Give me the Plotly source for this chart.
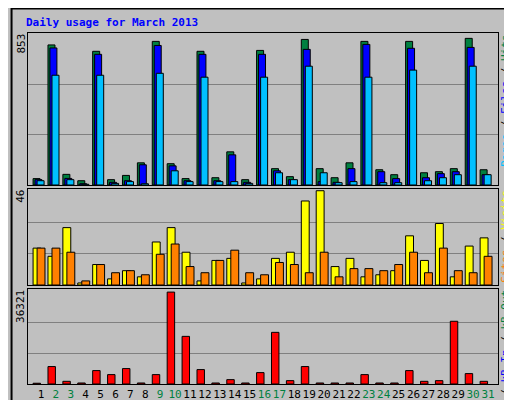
import plotly.graph_objects as go

days = list(range(1, 32))
day_labels = [str(d) for d in days]
weekend = [2, 3, 9, 10, 16, 17, 23, 24, 30, 31]

hits  = [36,790,60,24,754,30,54,125,810,120,36,754,41,187,30,759,92,47,821,92,41,125,810,86,58,810,69,75,92,827,86]
files = [30,773,37,7,737,15,24,114,787,108,24,737,24,170,15,737,80,30,765,19,15,92,793,75,36,771,41,64,75,776,58]
pages = [24,619,30,4,619,9,19,7,630,80,19,608,19,19,9,608,69,30,670,69,13,19,608,13,13,648,24,41,58,670,58]
visits = [18,14,28,1,10,3,7,4,21,28,16,2,12,13,1,3,13,16,41,46,9,13,4,5,7,24,12,30,4,19,23]
sites  = [18,18,16,2,10,6,7,5,15,20,9,6,12,17,6,5,11,10,6,16,4,8,8,7,10,16,6,18,7,6,14]
kbytes = [300,6893,1060,400,5302,3712,6098,400,3712,36321,18824,5700,400,1723,400,4507,20414,1326,6893,400,400,400,3712,400,400,5302,1060,1326,24789,4109,1060]

max_top, max_mid, max_bot = 853, 46, 36321
FONT = "DejaVu Sans Mono"

fig = go.Figure()
def bar(y, color, off, w, ax):
    fig.add_trace(go.Bar(x=days, y=y, offset=off, width=w, marker=dict(color=color, line=dict(color="black", width=1)),
                         xaxis="x" + ax, yaxis="y" + ax, showlegend=False, hoverinfo="skip"))
bar(hits, "#008040", -0.53, 0.47, "")
bar(files, "#0000FF", -0.40, 0.47, "")
bar(pages, "#00C0FF", -0.26, 0.47, "")
bar(visits, "#FFFF00", -0.53, 0.53, "2")
bar(sites, "#FF8000", -0.26, 0.53, "2")
bar(kbytes, "#FF0000", -0.53, 0.5, "3")

xr = [0.13, 31.67]
ticktext = [f"<span style='color:#008040'>{l}</span>" if d in weekend else l for d, l in zip(days, day_labels)]
common_x = dict(range=xr, showline=True, linecolor="black", mirror=True, showgrid=False, zeroline=False, fixedrange=True)
common_y = dict(showline=True, linecolor="black", mirror=True, gridcolor="#808080", zeroline=False, showticklabels=False, ticks="")

fig.update_layout(
    width=512, height=400, barmode="overlay",
    margin=dict(l=20, r=22, t=25, b=24, autoexpand=False),
    paper_bgcolor="#C0C0C0", plot_bgcolor="#C0C0C0",
    xaxis=dict(**common_x, anchor="y", showticklabels=False),
    xaxis2=dict(**common_x, anchor="y2", showticklabels=False),
    xaxis3=dict(**common_x, anchor="y3", tickmode="array", tickvals=days, ticktext=ticktext, tickangle=0,
                automargin=False, tickfont=dict(family=FONT, size=11, color="black"), ticks=""),
    yaxis=dict(**common_y, domain=[0.567, 1], range=[0, max_top*1.005], tickvals=[max_top/3, 2*max_top/3]),
    yaxis2=dict(**common_y, domain=[0.282, 0.556], range=[0, max_mid*1.02], tickvals=[max_mid/3, 2*max_mid/3]),
    yaxis3=dict(**common_y, domain=[0, 0.271], range=[0, max_bot*1.035], tickvals=[max_bot/3, 2*max_bot/3]),
    font=dict(family=FONT),
    shapes=[dict(type="rect", xref="paper", yref="paper", x0=-0.035, x1=1.05, y0=-0.064, y1=1.07,
                 line=dict(color="black", width=2))],
)

ann = []
ann.append(dict(text="<b>Daily usage for March 2013</b>", xref="paper", yref="paper", showarrow=False,
                x=0, xanchor="left", xshift=-4, y=1.0, yanchor="bottom", yshift=2,
                font=dict(family=FONT, size=11, color="#0000FF")))
for txt, ytop in [(str(max_top), 1.0), (str(max_mid), 0.556), (str(max_bot), 0.271)]:
    ann.append(dict(text=txt, textangle=-90, x=0, xref="paper", xanchor="right", xshift=0, borderpad=0,
                    y=ytop, yref="paper", yanchor="top", showarrow=False, font=dict(family=FONT, size=11, color="black")))
def span(t, c): return f"<span style='color:{c}'>{t}</span>"
right = [
    (span("Pages", "#00C0FF") + " / " + span("Files", "#0000FF") + " / " + span("Hits", "#008040"), 1.0),
    (span("Sites", "#FF8000") + " / " + span("Visits", "#FFFF00"), 0.556),
    (span("kB F", "#FF0000") + " / " + span("kB In", "#0000FF") + " / " + span("kB Out", "#008040"), 0.271),
]
for txt, ytop in right:
    ann.append(dict(text=txt, textangle=-90, x=1, xref="paper", xanchor="left", xshift=0, borderpad=0,
                    y=ytop, yref="paper", yanchor="top", showarrow=False, font=dict(family=FONT, size=11, color="black")))
fig.update_layout(annotations=ann)
fig.write_html("out.html")
